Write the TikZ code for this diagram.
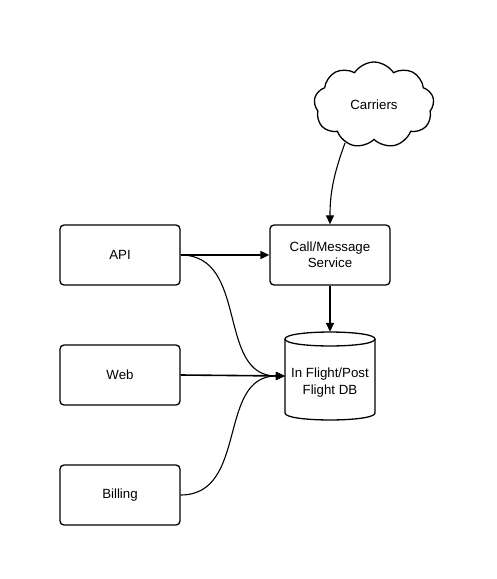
\documentclass[tikz,border=0pt]{standalone}
\usepackage{fontspec}
\setmainfont{Liberation Sans}
\usetikzlibrary{shapes.symbols,arrows.meta}
\begin{document}
\begin{tikzpicture}[x=1pt,y=-1pt,
  box/.style={draw,line width=1.3pt,rounded corners=4pt,minimum width=120pt,minimum height=60pt,align=center,inner sep=0pt,font=\fontsize{13.3}{16}\selectfont},
  arr/.style={line width=1.6pt,-{Triangle[length=9pt,width=8pt]}},
  carr/.style={line width=1.1pt,-{Triangle[length=9pt,width=8pt]}}]
\useasboundingbox (0,0) rectangle (497,579);
\node[box] (api) at (120,255) {API};
\node[box] (web) at (120,375) {Web};
\node[box] (bill) at (120,495) {Billing};
\node[box] (svc) at (330,255) {Call/Message\\Service};
\node[cloud,draw,line width=1.3pt,cloud puffs=9,cloud puff arc=115,aspect=1.4,minimum width=120pt,minimum height=86pt,inner sep=0pt,font=\fontsize{13.3}{16}\selectfont] (car) at (374,105) {Carriers};
\node[minimum width=90pt,minimum height=88pt,inner sep=0pt] (db) at (330,376) {};
\draw[line width=1.3pt] (285,339) -- (285,413) .. controls (285,422.3) and (375,422.3) .. (375,413) -- (375,339);
\draw[line width=1.3pt] (285,339) .. controls (285,329.7) and (375,329.7) .. (375,339) .. controls (375,348.3) and (285,348.3) .. (285,339) -- cycle;
\node[align=center,font=\fontsize{13.3}{17}\selectfont] (dbt) at (330,383) {In Flight/Post\\Flight DB};
\draw[carr] (345,143) to[out=250,in=90] (svc.north);
\draw[arr] (api.east) -- (svc.west);
\draw[arr] (svc.south) -- (db.north);
\draw[arr] (web.east) -- (db.west);
\draw[carr] (api.east) to[out=0,in=180,looseness=1.1] (db.west);
\draw[carr] (bill.east) to[out=0,in=180,looseness=1.1] (db.west);
\end{tikzpicture}
\end{document}
